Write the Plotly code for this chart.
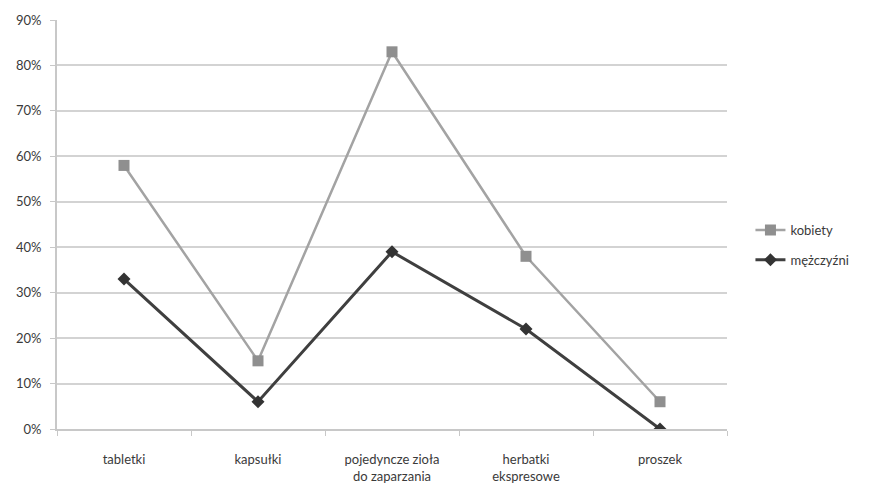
import plotly.graph_objects as go

categories = ["tabletki", "kapsułki", "pojedyncze zioła<br>do zaparzania", "herbatki<br>ekspresowe", "proszek"]
kobiety = [0.58, 0.15, 0.83, 0.38, 0.06]
mezczyzni = [0.33, 0.06, 0.39, 0.22, 0.00]
y_ticks = [0, 0.1, 0.2, 0.3, 0.4, 0.5, 0.6, 0.7, 0.8, 0.9]

fig = go.Figure()
fig.add_trace(go.Scatter(
    x=categories, y=kobiety, name="kobiety", mode="lines+markers",
    legendgroup="k",
    line=dict(color="#a3a3a3", width=2.5),
    marker=dict(symbol="square", size=11, color="#8f8f8f"),
))
fig.add_trace(go.Scatter(
    x=categories, y=mezczyzni, name="mężczyźni", mode="lines+markers",
    legendgroup="m",
    line=dict(color="#3f3f3f", width=3),
    marker=dict(symbol="diamond", size=10, color="#333333"),
))

fig.update_layout(
    width=870, height=489,
    margin=dict(l=57, r=143, t=20, b=60),
    paper_bgcolor="white", plot_bgcolor="white",
    font=dict(family="Lato, Open Sans, sans-serif", size=13, color="#3a3a3a"),
    xaxis=dict(
        type="category", tickson="boundaries", ticks="outside", ticklen=5,
        tickcolor="#c8c8c8", showgrid=False, showline=True,
        linecolor="#c8c8c8", linewidth=2, zeroline=False,
        range=[-0.5, 4.5], ticklabelstandoff=17, automargin=False,
    ),
    yaxis=dict(
        range=[0, 0.9], tickvals=y_ticks, tickformat=".0%",
        ticks="outside", ticklen=5, tickcolor="#c8c8c8",
        showgrid=True, gridcolor="#d3d3d3", gridwidth=2,
        showline=True, linecolor="#c8c8c8", linewidth=2, zeroline=False,
        ticklabelstandoff=6, automargin=False,
    ),
    legend=dict(
        x=1.035, y=0.45, xanchor="left", yanchor="middle",
        font=dict(size=13, color="#3a3a3a"), tracegroupgap=10,
        bgcolor="rgba(0,0,0,0)",
    ),
    showlegend=True,
)

fig.write_html("out.html")
